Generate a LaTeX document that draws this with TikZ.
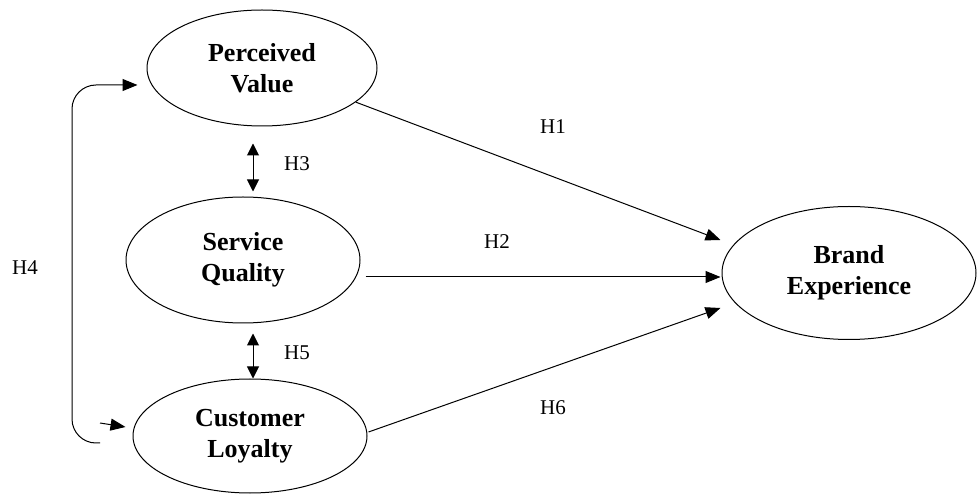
\documentclass[tikz,border=0pt]{standalone}
\usepackage{fontspec}
\setmainfont{Liberation Serif}
\usetikzlibrary{arrows.meta,shapes.geometric}
\begin{document}
\begin{tikzpicture}[x=1pt,y=-1pt,
  var/.style={ellipse,draw,line width=1pt,inner sep=0pt,align=center,font=\fontsize{26}{31}\selectfont\bfseries},
  arr/.style={-{Triangle[length=15pt,width=12pt]},line width=1pt},
  dbl/.style={{Triangle[length=12pt,width=12pt]}-{Triangle[length=12pt,width=12pt]},line width=1pt},
  hyp/.style={font=\fontsize{21}{25}\selectfont}]
  \useasboundingbox (0,0) rectangle (978,494);
  \node[var,minimum width=230pt,minimum height=116pt] (PV) at (262,68) {Perceived\\Value};
  \node[var,minimum width=234pt,minimum height=126pt] (SQ) at (243,260) {Service\\Quality};
  \node[var,minimum width=234pt,minimum height=114pt] (CL) at (250,436) {Customer\\Loyalty};
  \node[var,minimum width=254pt,minimum height=133pt] (BE) at (849,273) {Brand\\Experience};
  \coordinate (F) at (100,443);
  \coordinate (T) at (100,423);
  \node[hyp] (h1) at (553,127) {H1};
  \node[hyp] (h2) at (497,242) {H2};
  \node[hyp] (h3) at (297,164) {H3};
  \node[hyp] (h4) at (25,268) {H4};
  \node[hyp] (h5) at (297,353) {H5};
  \node[hyp] (h6) at (553,408) {H6};
  %\draw[arr] (PV) -- (BE);
  \draw[arr] (PV.-20) -- ([shift={(-1,-33)}]BE.west);
  \draw[arr] ([shift={(5,17)}]SQ.east) -- ([shift={(-1,4)}]BE.west);
  \draw[arr] ([shift={(1,-4)}]CL.east) -- ([shift={(-1,35)}]BE.west);
  \draw[dbl] ([shift={(-9,17)}]PV.south) -- ([shift={(10,-5)}]SQ.north);
  \draw[dbl] ([shift={(10,10)}]SQ.south) -- ([shift={(3,0)}]CL.north);
  \draw[arr,rounded corners=24pt] (F) -- ++(-28,0) |- ([shift={(-9,17)}]PV.west);
  \draw[arr] (T) -- ([shift={(-7,-9)}]CL.west);
\end{tikzpicture}
\end{document}
